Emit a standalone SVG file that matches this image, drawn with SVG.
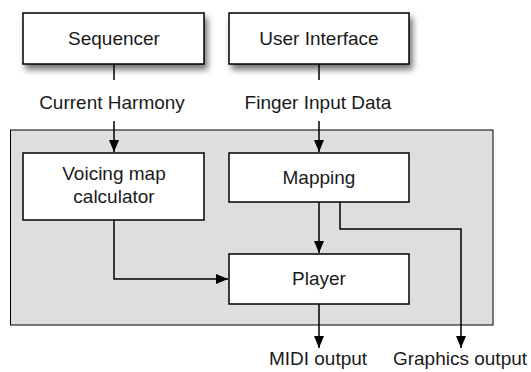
<svg xmlns="http://www.w3.org/2000/svg" width="531" height="372" viewBox="0 0 531 372">
<defs>
<filter id="sh" x="-10%" y="-20%" width="130%" height="160%">
<feGaussianBlur in="SourceAlpha" stdDeviation="3"/>
<feOffset dx="3" dy="5" result="b"/>
<feComponentTransfer><feFuncA type="linear" slope="0.55"/></feComponentTransfer>
<feMerge><feMergeNode/><feMergeNode in="SourceGraphic"/></feMerge>
</filter>
<marker id="ah" viewBox="0 0 12 10" refX="12" refY="5" markerWidth="12" markerHeight="10" markerUnits="userSpaceOnUse" orient="auto">
<path d="M0,0 L12,5 L0,10 Z" fill="#000"/>
</marker>
</defs>
<style>
.box{fill:#fff;stroke:#000;stroke-width:1.5}
.t{font-family:"Liberation Sans",Arial,Helvetica,sans-serif;font-size:19px;fill:#1a1a1a;text-anchor:middle}
.c{fill:none;stroke:#000;stroke-width:1.5}
</style>
<rect x="0" y="0" width="531" height="372" fill="#fff"/>
<g id="container">
<rect x="10.5" y="130" width="482.5" height="195" fill="#dedede" stroke="#000" stroke-width="1"/>
</g>
<g id="sequencer">
<rect class="box" x="23" y="13" width="181" height="51" filter="url(#sh)"/>
<text class="t" x="114" y="45">Sequencer</text>
</g>
<g id="user-interface">
<rect class="box" x="229" y="13" width="180" height="51" filter="url(#sh)"/>
<text class="t" x="319" y="45">User Interface</text>
</g>
<g id="voicing">
<rect class="box" x="23" y="153" width="181" height="67"/>
<text class="t" x="114" y="180">Voicing map</text>
<text class="t" x="114" y="203">calculator</text>
</g>
<g id="mapping">
<rect class="box" x="229" y="153" width="180" height="49"/>
<text class="t" x="319" y="184">Mapping</text>
</g>
<g id="player">
<rect class="box" x="229" y="254" width="180" height="50"/>
<text class="t" x="319" y="285">Player</text>
</g>
<g id="labels">
<text class="t" x="112" y="109">Current Harmony</text>
<text class="t" x="318" y="109">Finger Input Data</text>
<text class="t" x="318" y="365">MIDI output</text>
<text class="t" x="460" y="365">Graphics output</text>
</g>
<g id="connectors">
<line class="c" x1="114" y1="64" x2="114" y2="80"/>
<line class="c" x1="114" y1="121" x2="114" y2="152" marker-end="url(#ah)"/>
<line class="c" x1="319" y1="64" x2="319" y2="80"/>
<line class="c" x1="319" y1="121" x2="319" y2="152" marker-end="url(#ah)"/>
<polyline class="c" points="114,220 114,279 228,279" marker-end="url(#ah)"/>
<line class="c" x1="319" y1="202" x2="319" y2="253" marker-end="url(#ah)"/>
<polyline class="c" points="340,202 340,229 461,229 461,348" marker-end="url(#ah)"/>
<line class="c" x1="319" y1="304" x2="319" y2="348" marker-end="url(#ah)"/>
</g>
</svg>
